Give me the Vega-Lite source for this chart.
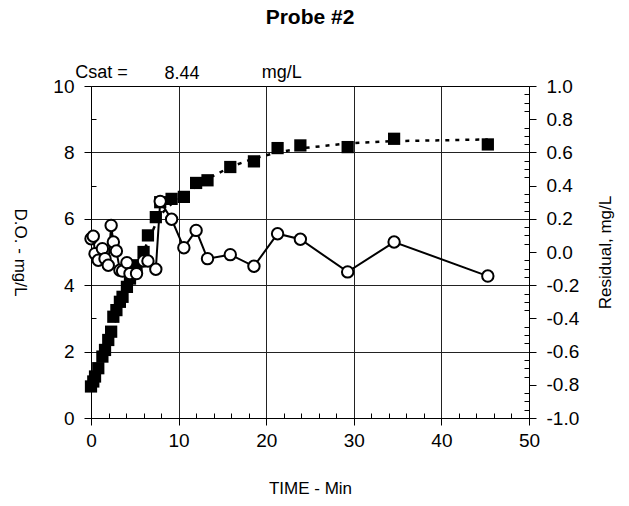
{
  "$schema": "https://vega.github.io/schema/vega-lite/v6.json",
  "width": 438,
  "height": 332,
  "autosize": "none",
  "padding": {"left": 91, "top": 86, "right": 100, "bottom": 88},
  "background": "white",
  "config": {
    "font": "Liberation Sans",
    "view": {"stroke": "black", "strokeWidth": 1},
    "axis": {
      "domainColor": "black",
      "tickColor": "black",
      "labelColor": "black",
      "titleColor": "black",
      "labelFont": "Liberation Sans",
      "titleFont": "Liberation Sans",
      "labelFontSize": 19,
      "titleFontSize": 17,
      "titleFontWeight": "normal",
      "gridColor": "#222222",
      "gridWidth": 1,
      "tickWidth": 1,
      "labelOverlap": false
    }
  },
  "title": {
    "text": "Probe #2",
    "font": "Liberation Sans",
    "fontSize": 21,
    "fontWeight": "bold",
    "color": "black",
    "offset": 36
  },
  "datasets": {
    "probe": [
      {"t": 0, "do": 0.95, "fit": 0.9, "res": 0.08},
      {"t": 0.26, "do": 1.1, "fit": 1.05, "res": 0.095},
      {"t": 0.46, "do": 1.25, "fit": 1.22, "res": -0.01},
      {"t": 0.83, "do": 1.5, "fit": 1.53, "res": -0.05},
      {"t": 1.3, "do": 1.85, "fit": 1.88, "res": 0.02},
      {"t": 1.6, "do": 2.05, "fit": 2.08, "res": -0.04},
      {"t": 1.97, "do": 2.35, "fit": 2.36, "res": -0.08},
      {"t": 2.3, "do": 2.6, "fit": 2.58, "res": 0.16},
      {"t": 2.55, "do": 3.05, "fit": 2.75, "res": 0.06},
      {"t": 2.9, "do": 3.25, "fit": 3.0, "res": 0.006},
      {"t": 3.3, "do": 3.5, "fit": 3.28, "res": -0.11},
      {"t": 3.6, "do": 3.65, "fit": 3.48, "res": -0.115},
      {"t": 4.1, "do": 3.95, "fit": 3.82, "res": -0.064},
      {"t": 4.45, "do": 4.2, "fit": 4.05, "res": -0.13},
      {"t": 5.2, "do": 4.6, "fit": 4.55, "res": -0.13},
      {"t": 6.0, "do": 5.0, "fit": 5.02, "res": -0.054},
      {"t": 6.5, "do": 5.5, "fit": 5.32, "res": -0.054},
      {"t": 7.4, "do": 6.05, "fit": 5.85, "res": -0.104},
      {"t": 7.9, "do": 6.5, "fit": 6.12, "res": 0.305},
      {"t": 9.2, "do": 6.6, "fit": 6.45, "res": 0.197},
      {"t": 10.6, "do": 6.66, "fit": 6.68, "res": 0.026},
      {"t": 12.0, "do": 7.08, "fit": 6.97, "res": 0.13},
      {"t": 13.3, "do": 7.16, "fit": 7.2, "res": -0.04},
      {"t": 15.9, "do": 7.56, "fit": 7.56, "res": -0.016},
      {"t": 18.6, "do": 7.73, "fit": 7.82, "res": -0.086},
      {"t": 21.3, "do": 8.13, "fit": 8.0, "res": 0.11},
      {"t": 23.9, "do": 8.21, "fit": 8.12, "res": 0.077},
      {"t": 29.3, "do": 8.16, "fit": 8.27, "res": -0.12},
      {"t": 34.6, "do": 8.41, "fit": 8.34, "res": 0.06},
      {"t": 45.3, "do": 8.24, "fit": 8.39, "res": -0.145}
    ],
    "notes": [
      {"label": "Csat =", "t": -1.8, "y": 10.38},
      {"label": "8.44", "t": 8.4, "y": 10.36},
      {"label": "mg/L", "t": 19.5, "y": 10.38}
    ]
  },
  "layer": [
    {
      "layer": [
        {
          "data": {"name": "probe"},
          "mark": {"type": "line", "color": "black", "strokeWidth": 2.5, "strokeDash": [4, 6]},
          "encoding": {
            "x": {"field": "t", "type": "quantitative", "scale": {"domain": [0, 50], "nice": false, "zero": false}},
            "y": {"field": "fit", "type": "quantitative", "scale": {"domain": [0, 10], "nice": false}}
          }
        },
        {
          "data": {"name": "probe"},
          "mark": {"type": "point", "shape": "square", "filled": true, "color": "black", "size": 150, "opacity": 1},
          "encoding": {
            "x": {
              "field": "t",
              "type": "quantitative",
              "scale": {"domain": [0, 50], "nice": false, "zero": false},
              "axis": {
                "title": "TIME - Min",
                "values": [0, 2, 4, 6, 8, 10, 12, 14, 16, 18, 20, 22, 24, 26, 28, 30, 32, 34, 36, 38, 40, 42, 44, 46, 48, 50],
                "tickCount": 200,
                "format": "d",
                "labelExpr": "datum.value % 10 == 0 ? datum.label : ''",
                "labelOverlap": false,
                "grid": true,
                "gridOpacity": {"condition": {"test": "datum.value % 10 == 0 && datum.value > 0 && datum.value < 50", "value": 1}, "value": 0},
                "tickSize": {"condition": {"test": "datum.value % 10 == 0", "value": 7}, "value": -5},
                "labelPadding": 6,
                "labelFlush": false,
                "titlePadding": 30
              }
            },
            "y": {
              "field": "do",
              "type": "quantitative",
              "scale": {"domain": [0, 10], "nice": false},
              "axis": {
                "title": "D.O. - mg/L",
                "titleAngle": 90,
                "values": [0, 1, 2, 3, 4, 5, 6, 7, 8, 9, 10],
                "tickCount": 200,
                "format": "d",
                "labelExpr": "datum.value % 2 == 0 ? datum.label : ''",
                "labelOverlap": false,
                "grid": true,
                "gridOpacity": {"condition": {"test": "datum.value % 2 == 0 && datum.value > 0 && datum.value < 10", "value": 1}, "value": 0},
                "tickSize": {"condition": {"test": "datum.value % 2 == 0", "value": 7}, "value": -5},
                "labelPadding": 10,
                "labelFlush": false,
                "titlePadding": 42
              }
            }
          }
        },
        {
          "data": {"name": "notes"},
          "mark": {"type": "text", "align": "left", "baseline": "middle", "fontSize": 18, "font": "Liberation Sans", "color": "black"},
          "encoding": {
            "x": {"field": "t", "type": "quantitative", "scale": {"domain": [0, 50], "nice": false, "zero": false}},
            "y": {"field": "y", "type": "quantitative", "scale": {"domain": [0, 10], "nice": false}},
            "text": {"field": "label"}
          }
        }
      ]
    },
    {
      "layer": [
        {
          "data": {"name": "probe"},
          "mark": {"type": "line", "color": "black", "strokeWidth": 2},
          "encoding": {
            "x": {"field": "t", "type": "quantitative", "scale": {"domain": [0, 50], "nice": false, "zero": false}},
            "y": {"field": "res", "type": "quantitative", "scale": {"domain": [-1, 1], "nice": false}}
          }
        },
        {
          "data": {"name": "probe"},
          "mark": {"type": "point", "shape": "circle", "filled": true, "fill": "white", "stroke": "black", "strokeWidth": 2, "size": 130, "opacity": 1},
          "encoding": {
            "x": {"field": "t", "type": "quantitative", "scale": {"domain": [0, 50], "nice": false, "zero": false}},
            "y": {
              "field": "res",
              "type": "quantitative",
              "scale": {"domain": [-1, 1], "nice": false},
              "axis": {
                "orient": "right",
                "title": "Residual, mg/L",
                "titleAngle": -90,
                "values": [-1, -0.95, -0.9, -0.85, -0.8, -0.75, -0.7, -0.65, -0.6, -0.55, -0.5, -0.45, -0.4, -0.35, -0.3, -0.25, -0.2, -0.15, -0.1, -0.05, 0, 0.05, 0.1, 0.15, 0.2, 0.25, 0.3, 0.35, 0.4, 0.45, 0.5, 0.55, 0.6, 0.65, 0.7, 0.75, 0.8, 0.85, 0.9, 0.95, 1],
                "tickCount": 200,
                "labelExpr": "abs(round(datum.value * 100)) % 20 == 0 ? (datum.value < 0 ? '-' : '') + format(abs(datum.value), '.1f') : ''",
                "labelOverlap": false,
                "grid": false,
                "tickSize": {"condition": {"test": "abs(round(datum.value * 100)) % 20 == 0", "value": 7}, "value": -5},
                "labelPadding": 10,
                "labelFlush": false,
                "titlePadding": 36
              }
            }
          }
        }
      ]
    }
  ],
  "resolve": {"scale": {"y": "independent"}}
}
